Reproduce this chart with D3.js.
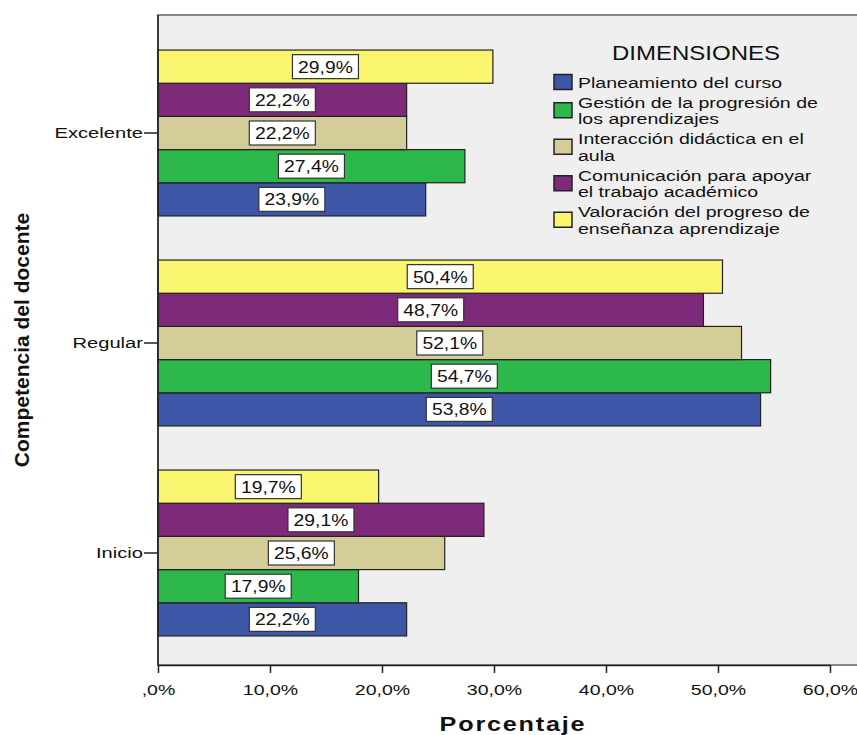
<!DOCTYPE html>
<html>
<head>
<meta charset="utf-8">
<script src="https://cdn.jsdelivr.net/npm/d3@7"></script>
<style>
  body { margin: 0; background: #fff; }
  text { font-family: "Liberation Sans", Arial, sans-serif; }
</style>
</head>
<body>
<script>
// Categorías del eje Y (de arriba abajo)
const categories = ['Excelente', 'Regular', 'Inicio'];

// Dimensiones, en el orden de la leyenda
const dimensions = [
    'Planeamiento del curso',
    'Gestión de la progresión de los aprendizajes',
    'Interacción didáctica en el aula',
    'Comunicación para apoyar el trabajo académico',
    'Valoración del progreso de enseñanza aprendizaje'
];
const legendLines = [
    ['Planeamiento del curso'],
    ['Gestión de la progresión de', 'los aprendizajes'],
    ['Interacción didáctica en el', 'aula'],
    ['Comunicación para apoyar', 'el trabajo académico'],
    ['Valoración del progreso de', 'enseñanza aprendizaje']
];
const colors = ['#3d56a8', '#2db84b', '#d4cd98', '#7d2a7b', '#f9f56f'];

// Porcentajes por dimensión: [Excelente, Regular, Inicio]
const planeamiento = [23.9, 53.8, 22.2];
const gestion = [27.4, 54.7, 17.9];
const interaccion = [22.2, 52.1, 25.6];
const comunicacion = [22.2, 48.7, 29.1];
const valoracion = [29.9, 50.4, 19.7];
const seriesValues = [planeamiento, gestion, interaccion, comunicacion, valoracion];

const xTicks = [0, 10, 20, 30, 40, 50, 60];

const width = 857, height = 735;
const plot = { left: 158, top: 15, right: 870, bottom: 665 };

// el texto del original está algo ensanchado horizontalmente
function stretchText(sel, s) {
    sel.each(function() {
        const t = d3.select(this);
        const tx = +t.attr('x') || 0, ty = +t.attr('y') || 0;
        t.attr('x', 0).attr('y', 0)
            .attr('transform', `translate(${tx},${ty}) scale(${s},1)`);
    });
}

const svg = d3.select('body').append('svg')
    .attr('width', width)
    .attr('height', height);

// Fondo del área de gráfico
svg.append('rect')
    .attr('x', plot.left)
    .attr('y', plot.top)
    .attr('width', plot.right - plot.left)
    .attr('height', plot.bottom - plot.top)
    .attr('fill', '#efefef')
    .attr('stroke', '#888')
    .attr('stroke-width', 2);

const x = d3.scaleLinear()
    .domain([0, 60])
    .range([plot.left, 830]);

const y = d3.scaleBand()
    .domain(categories)
    .range([28, 658])
    .paddingInner(0.21)
    .paddingOuter(0.105);

// Orden de las barras dentro de cada grupo: la última dimensión arriba
const barOrder = d3.range(dimensions.length).reverse();
const yInner = d3.scaleBand()
    .domain(barOrder)
    .range([0, y.bandwidth()]);

const rows = [];
categories.forEach((c, ci) => {
    dimensions.forEach((d, di) => {
        rows.push({ cat: c, dim: di, value: seriesValues[di][ci] });
    });
});

const groups = svg.append('g');

groups.selectAll('rect.bar')
    .data(rows)
    .enter()
    .append('rect')
    .attr('class', 'bar')
    .attr('x', x(0))
    .attr('y', d => y(d.cat) + yInner(d.dim))
    .attr('width', d => x(d.value) - x(0))
    .attr('height', yInner.bandwidth())
    .attr('fill', d => colors[d.dim])
    .attr('stroke', '#222')
    .attr('stroke-width', 1.2);

// Etiquetas de valor en cajas blancas
const fmt = v => d3.format('.1f')(v).replace('.', ',') + '%';
const labels = groups.selectAll('g.lbl')
    .data(rows)
    .enter()
    .append('g')
    .attr('class', 'lbl')
    .attr('transform', d => `translate(${(x(0) + x(d.value)) / 2}, ${y(d.cat) + yInner(d.dim) + yInner.bandwidth() / 2})`);

labels.append('rect')
    .attr('x', -33)
    .attr('y', -12)
    .attr('width', 66)
    .attr('height', 24)
    .attr('fill', '#fff')
    .attr('stroke', '#333')
    .attr('stroke-width', 1.2);

labels.append('text')
    .attr('text-anchor', 'middle')
    .attr('dy', '0.36em')
    .attr('font-size', 16.5)
    .attr('fill', '#111')
    .text(d => fmt(d.value))
    .call(stretchText, 1.17);

// Ejes
svg.append('g')
    .attr('transform', `translate(0, ${plot.bottom})`)
    .call(d3.axisBottom(x).tickValues(xTicks).tickSize(8).tickSizeOuter(0)
        .tickFormat(d => d === 0 ? ',0%' : d3.format('.1f')(d).replace('.', ',') + '%'))
    .call(g => g.select('.domain').attr('stroke', '#222').attr('stroke-width', 1.5))
    .call(g => g.selectAll('.tick line').attr('stroke', '#222').attr('stroke-width', 1.5))
    .call(g => g.selectAll('.tick text')
        .attr('font-size', 15.5)
        .attr('fill', '#111')
        .attr('dy', null)
        .attr('y', 30)
        .attr('font-family', '"Liberation Sans", Arial, sans-serif')
        .call(stretchText, 1.26));

svg.append('g')
    .attr('transform', `translate(${plot.left}, 0)`)
    .call(d3.axisLeft(y).tickSize(14).tickSizeOuter(0))
    .call(g => g.select('.domain').attr('stroke', '#222').attr('stroke-width', 1.5)
        .attr('d', `M0,${plot.top}V${plot.bottom}`))
    .call(g => g.selectAll('.tick line').attr('stroke', '#222').attr('stroke-width', 1.5))
    .call(g => g.selectAll('.tick text')
        .attr('font-size', 15.5)
        .attr('fill', '#111')
        .attr('x', -15)
        .attr('font-family', '"Liberation Sans", Arial, sans-serif')
        .call(stretchText, 1.3));

// Títulos de los ejes
svg.append('text')
    .attr('x', 513)
    .attr('y', 731)
    .attr('text-anchor', 'middle')
    .attr('font-size', 21)
    .attr('font-weight', 'bold')
    .attr('letter-spacing', 1.5)
    .attr('fill', '#111')
    .text('Porcentaje')
    .call(stretchText, 1.2);

svg.append('text')
    .attr('transform', 'translate(29, 340) rotate(-90)')
    .attr('text-anchor', 'middle')
    .attr('font-size', 21)
    .attr('font-weight', 'bold')
    .attr('fill', '#111')
    .text('Competencia del docente');

// Leyenda
const legend = svg.append('g');
legend.append('text')
    .attr('x', 696)
    .attr('y', 60)
    .attr('text-anchor', 'middle')
    .attr('font-size', 20)
    .attr('fill', '#111')
    .text('DIMENSIONES')
    .call(stretchText, 1.2);

const lineGap = 16.5;
let ly = 82;
legendLines.forEach((lines, i) => {
    const h = (lines.length - 1) * lineGap;
    const item = legend.append('g');
    item.append('rect')
        .attr('x', 554)
        .attr('y', ly + h / 2 - 7.5)
        .attr('width', 18)
        .attr('height', 15)
        .attr('fill', colors[i])
        .attr('stroke', '#222')
        .attr('stroke-width', 1.5);
    lines.forEach((t, li) => {
        item.append('text')
            .attr('x', 578)
            .attr('y', ly + li * lineGap + 5.5)
            .attr('font-size', 15.5)
            .attr('fill', '#111')
            .text(t)
            .call(stretchText, 1.26);
    });
    ly += h + 20;
});
</script>
</body>
</html>
